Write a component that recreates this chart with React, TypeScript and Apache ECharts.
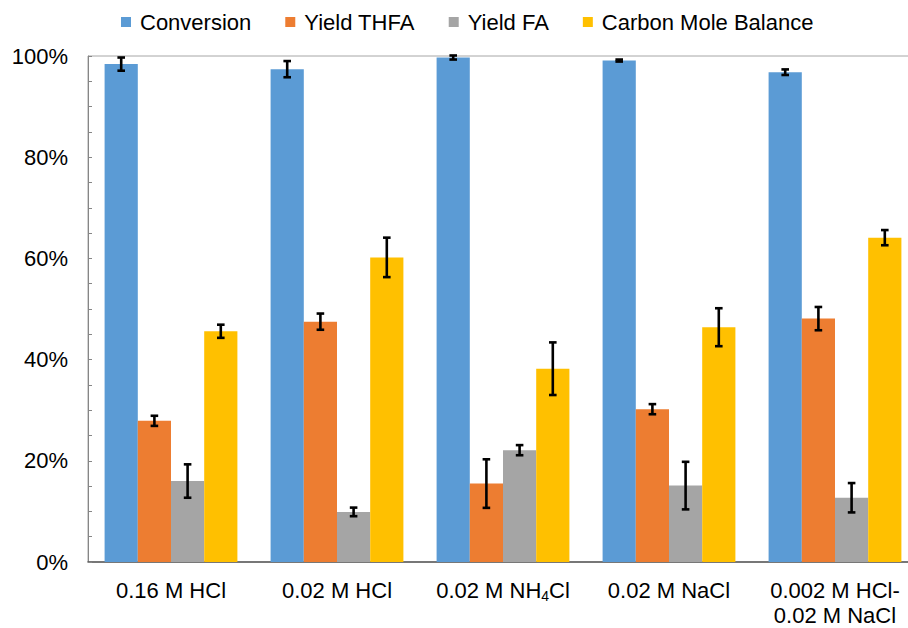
import React, { useEffect, useRef } from "react";
import * as echarts from "echarts";

const categories = ["0.16 M HCl", "0.02 M HCl", "0.02 M NH4Cl", "0.02 M NaCl", "0.002 M HCl-\n0.02 M NaCl"];
const seriesNames = ["Conversion", "Yield THFA", "Yield FA", "Carbon Mole Balance"];
const colors = ["#5B9BD5", "#ED7D31", "#A5A5A5", "#FFC000"];

const conversion = [98.4, 97.4, 99.7, 99.1, 96.8];
const yieldTHFA = [27.9, 47.5, 15.5, 30.2, 48.1];
const yieldFA = [16.0, 9.9, 22.1, 15.1, 12.7];
const carbonBalance = [45.6, 60.2, 38.2, 46.4, 64.1];

const conversionErr = [1.3, 1.6, 0.4, 0.2, 0.55];
const yieldTHFAErr = [1.0, 1.6, 4.8, 1.0, 2.3];
const yieldFAErr = [3.3, 0.85, 1.0, 4.7, 2.9];
const carbonBalanceErr = [1.3, 3.9, 5.2, 3.75, 1.5];

const yTicks = [0, 20, 40, 60, 80, 100];

const FONT = "'Liberation Sans', Arial, sans-serif";

export default function App() {
  const ref = useRef<HTMLDivElement>(null);
  useEffect(() => {
    if (!ref.current) return;
    const chart = echarts.init(ref.current, null, { renderer: "svg" });
    const values = [conversion, yieldTHFA, yieldFA, carbonBalance];
    const errs = [conversionErr, yieldTHFAErr, yieldFAErr, carbonBalanceErr];
    const nSeries = values.length;
    const catGap = 0.2;

    const barSeries = values.map((v, i) => ({
      name: seriesNames[i],
      type: "bar",
      data: v,
      barGap: "0%",
      barCategoryGap: catGap * 100 + "%",
      itemStyle: { color: colors[i] },
      z: 2,
    }));

    const errSeries = values.map((v, i) => ({
      type: "custom",
      name: seriesNames[i] + " err",
      z: 5,
      silent: true,
      encode: { x: 0, y: [1, 2] },
      data: v.map((val, k) => [k, val - errs[i][k], val + errs[i][k]]),
      renderItem: (params: any, api: any) => {
        const k = api.value(0);
        const lo = api.coord([k, api.value(1)]);
        const hi = api.coord([k, api.value(2)]);
        const band = api.size([1, 0])[0];
        const bw = (band * (1 - catGap)) / nSeries;
        const x = lo[0] + (i - (nSeries - 1) / 2) * bw;
        const cap = 3.8;
        const style = { stroke: "#000", lineWidth: 2.6 };
        return {
          type: "group",
          children: [
            { type: "line", shape: { x1: x, y1: lo[1], x2: x, y2: hi[1] }, style },
            { type: "line", shape: { x1: x - cap, y1: lo[1], x2: x + cap, y2: lo[1] }, style },
            { type: "line", shape: { x1: x - cap, y1: hi[1], x2: x + cap, y2: hi[1] }, style },
          ],
        };
      },
    }));

    chart.setOption({
      animation: false,
      textStyle: { fontFamily: FONT },
      legend: {
        data: seriesNames,
        left: 116,
        top: 6,
        itemWidth: 10,
        itemHeight: 10,
        itemGap: 34,
        icon: "rect",
        textStyle: { fontSize: 22, color: "#000", fontFamily: FONT, padding: [0, 0, 0, 4] },
      },
      grid: {
        left: 88,
        top: 56,
        width: 830,
        height: 509,
        show: true,
        borderColor: "#a6a6a6",
        borderWidth: 1,
        backgroundColor: "transparent",
      },
      xAxis: {
        type: "category",
        data: categories,
        axisLine: { lineStyle: { color: "#595959", width: 1.5 } },
        axisTick: { show: false },
        axisLabel: {
          interval: 0,
          fontSize: 22,
          lineHeight: 25,
          color: "#000",
          fontFamily: FONT,
          margin: 16,
          formatter: (v: string) => v.replace("NH4Cl", "NH{sub|4}Cl"),
          rich: {
            sub: { fontSize: 14, lineHeight: 14, verticalAlign: "bottom", color: "#000", fontFamily: FONT },
          },
        },
      },
      yAxis: {
        type: "value",
        min: yTicks[0],
        max: yTicks[yTicks.length - 1],
        interval: yTicks[1] - yTicks[0],
        axisLine: { show: true, lineStyle: { color: "#868686", width: 1 } },
        axisTick: { show: true, inside: true, length: 4, lineStyle: { color: "#868686" } },
        minorTick: { show: true, splitNumber: 4, length: 4, lineStyle: { color: "#868686" } },
        splitLine: { show: false },
        axisLabel: {
          fontSize: 22,
          color: "#000",
          fontFamily: FONT,
          margin: 20,
          formatter: "{value}%",
        },
      },
      series: [...barSeries, ...errSeries],
    });
    return () => chart.dispose();
  }, []);
  return (
    <div
      ref={ref}
      style={{ position: "fixed", left: 0, top: 0, width: 920, height: 628, background: "#fff" }}
    />
  );
}
